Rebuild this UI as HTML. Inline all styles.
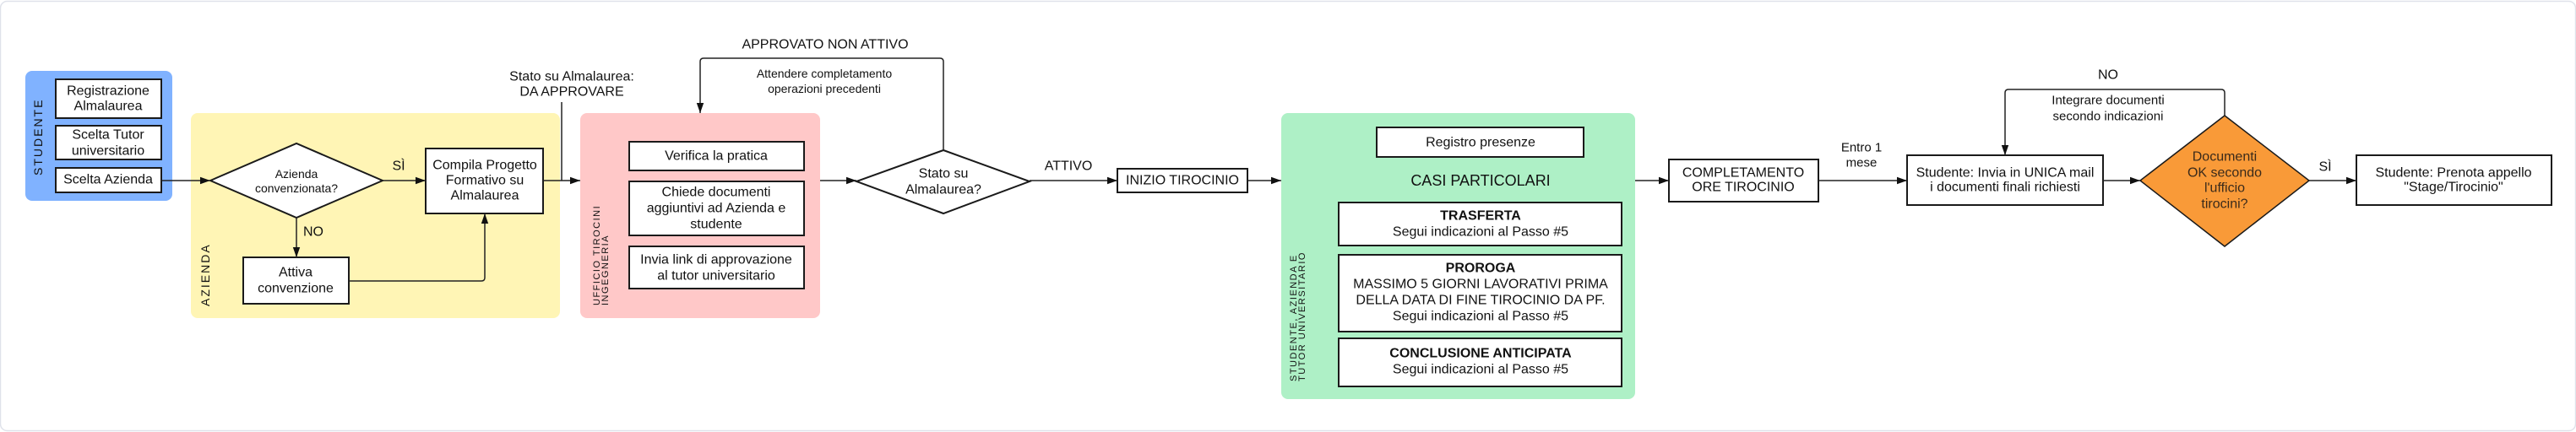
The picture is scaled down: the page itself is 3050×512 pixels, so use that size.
<!DOCTYPE html>
<html><head><meta charset="utf-8"><style>
html,body{margin:0;padding:0;background:#fff;}
svg{display:block;}
text{font-family:"Liberation Sans",Arial,sans-serif;fill:#111;}
</style></head><body>
<svg width="3050" height="512" viewBox="0 0 3050 512" xmlns="http://www.w3.org/2000/svg">
<defs>
<marker id="a" viewBox="0 0 10 10" refX="10" refY="5" markerWidth="12" markerHeight="12" markerUnits="userSpaceOnUse" orient="auto"><path d="M0,1.5 L10,5 L0,8.5 Z" fill="#111"/></marker>
</defs>
<rect x="0.5" y="1.5" width="3049" height="509" rx="8" fill="#fff" stroke="#dfe2ea" stroke-width="1.5"/>

<!-- lanes -->
<rect x="30" y="84" width="174" height="154" rx="8" fill="#80b2ff"/>
<rect x="226" y="134" width="437" height="243" rx="8" fill="#fff5b5"/>
<rect x="687" y="134" width="284" height="243" rx="8" fill="#ffc8c8"/>
<rect x="1517" y="134" width="419" height="339" rx="8" fill="#aef0c6"/>

<g fill="#fff" stroke="#1a1a1a" stroke-width="2">
<rect x="66" y="94" width="125" height="46"/>
<rect x="66" y="149" width="125" height="40"/>
<rect x="66" y="199" width="125" height="29"/>
<polygon points="249,214 351,170 453,214 351,258"/>
<rect x="504" y="176" width="139" height="77"/>
<rect x="288" y="305" width="125" height="55"/>
<rect x="745" y="168" width="207" height="34"/>
<rect x="745" y="215" width="207" height="64"/>
<rect x="745" y="292" width="207" height="50"/>
<polygon points="1014,215 1117,178 1219,215 1117,253"/>
<rect x="1323" y="200" width="154" height="28"/>
<rect x="1630" y="151" width="245" height="35"/>
<rect x="1585" y="240" width="335" height="51"/>
<rect x="1585" y="302" width="335" height="91"/>
<rect x="1585" y="401" width="335" height="57"/>
<rect x="1976" y="189" width="177" height="50"/>
<rect x="2258" y="184" width="232" height="59"/>
<rect x="2790" y="184" width="231" height="59"/>
</g>
<polygon points="2534,214 2634,137 2734,214 2634,292" fill="#f99a38" stroke="#1a1a1a" stroke-width="1.5"/>

<!-- connectors -->
<g fill="none" stroke="#222" stroke-width="1.5">
<line x1="191" y1="214" x2="249" y2="214" marker-end="url(#a)"/>
<line x1="453" y1="214" x2="504" y2="214" marker-end="url(#a)"/>
<line x1="351" y1="258" x2="351" y2="305" marker-end="url(#a)"/>
<path d="M413,333 H570 Q574,333 574,329 V253" marker-end="url(#a)"/>
<line x1="643" y1="214" x2="687" y2="214" marker-end="url(#a)"/>
<line x1="665" y1="121" x2="665" y2="214"/>
<line x1="971" y1="214" x2="1014" y2="214" marker-end="url(#a)"/>
<path d="M1117,178 V73 Q1117,69 1113,69 H833 Q829,69 829,73 V134" marker-end="url(#a)"/>
<line x1="1219" y1="214" x2="1323" y2="214" marker-end="url(#a)"/>
<line x1="1477" y1="214" x2="1517" y2="214" marker-end="url(#a)"/>
<line x1="1936" y1="214" x2="1976" y2="214" marker-end="url(#a)"/>
<line x1="2153" y1="214" x2="2258" y2="214" marker-end="url(#a)"/>
<line x1="2490" y1="214" x2="2534" y2="214" marker-end="url(#a)"/>
<path d="M2634,137 V110 Q2634,106 2630,106 H2378 Q2374,106 2374,110 V184" marker-end="url(#a)"/>
<line x1="2734" y1="214" x2="2790" y2="214" marker-end="url(#a)"/>
</g>

<g text-anchor="middle" dominant-baseline="central" font-size="16">
<text x="128" y="108">Registrazione</text>
<text x="128" y="126">Almalaurea</text>
<text x="128" y="160">Scelta Tutor</text>
<text x="128" y="179">universitario</text>
<text x="128" y="213">Scelta Azienda</text>
<text x="351" y="206" font-size="14">Azienda</text>
<text x="351" y="223" font-size="14">convenzionata?</text>
<text x="472" y="197">SÌ</text>
<text x="371" y="275">NO</text>
<text x="574" y="196">Compila Progetto</text>
<text x="574" y="214">Formativo su</text>
<text x="574" y="232">Almalaurea</text>
<text x="350" y="323">Attiva</text>
<text x="350" y="342">convenzione</text>
<text x="677" y="91">Stato su Almalaurea:</text>
<text x="677" y="109">DA APPROVARE</text>
<text x="848" y="185">Verifica la pratica</text>
<text x="848" y="228">Chiede documenti</text>
<text x="848" y="247">aggiuntivi ad Azienda e</text>
<text x="848" y="266">studente</text>
<text x="848" y="308">Invia link di approvazione</text>
<text x="848" y="327">al tutor universitario</text>
<text x="977" y="53">APPROVATO NON ATTIVO</text>
<text x="976" y="87" font-size="14">Attendere completamento</text>
<text x="976" y="105" font-size="14">operazioni precedenti</text>
<text x="1117" y="206">Stato su</text>
<text x="1117" y="225">Almalaurea?</text>
<text x="1265" y="197">ATTIVO</text>
<text x="1400" y="214">INIZIO TIROCINIO</text>
<text x="1753" y="169">Registro presenze</text>
<text x="1753" y="214" font-size="18">CASI PARTICOLARI</text>
<text x="1753" y="256" font-weight="bold">TRASFERTA</text>
<text x="1753" y="275">Segui indicazioni al Passo #5</text>
<text x="1753" y="318" font-weight="bold">PROROGA</text>
<text x="1753" y="337">MASSIMO 5 GIORNI LAVORATIVI PRIMA</text>
<text x="1753" y="356">DELLA DATA DI FINE TIROCINIO DA PF.</text>
<text x="1753" y="375">Segui indicazioni al Passo #5</text>
<text x="1753" y="419" font-weight="bold">CONCLUSIONE ANTICIPATA</text>
<text x="1753" y="438">Segui indicazioni al Passo #5</text>
<text x="2064" y="205">COMPLETAMENTO</text>
<text x="2064" y="222">ORE TIROCINIO</text>
<text x="2204" y="175" font-size="15">Entro 1</text>
<text x="2204" y="193" font-size="15">mese</text>
<text x="2374" y="205">Studente: Invia in UNICA mail</text>
<text x="2374" y="222">i documenti finali richiesti</text>
<text x="2496" y="89">NO</text>
<text x="2496" y="119" font-size="15">Integrare documenti</text>
<text x="2496" y="138" font-size="15">secondo indicazioni</text>
<g fill="#3a2a1a"><text x="2634" y="186" style="fill:#3a2a1a">Documenti</text>
<text x="2634" y="205" style="fill:#3a2a1a">OK secondo</text>
<text x="2634" y="223" style="fill:#3a2a1a">l'ufficio</text>
<text x="2634" y="242" style="fill:#3a2a1a">tirocini?</text></g>
<text x="2753" y="198">SÌ</text>
<text x="2905" y="205">Studente: Prenota appello</text>
<text x="2905" y="222">"Stage/Tirocinio"</text>
</g>

<!-- vertical lane labels -->
<g font-size="14" letter-spacing="2" style="fill:#1a2a4a">
<text transform="translate(50,208) rotate(-90)">STUDENTE</text>
<text transform="translate(248,363) rotate(-90)">AZIENDA</text>
</g>
<g font-size="11" letter-spacing="1.5">
<text transform="translate(710,362) rotate(-90)">UFFICIO TIROCINI</text>
<text transform="translate(720,362) rotate(-90)">INGEGNERIA</text>
<text transform="translate(1535,452) rotate(-90)">STUDENTE, AZIENDA E</text>
<text transform="translate(1545,452) rotate(-90)">TUTOR UNIVERSITARIO</text>
</g>
</svg>
</body></html>
